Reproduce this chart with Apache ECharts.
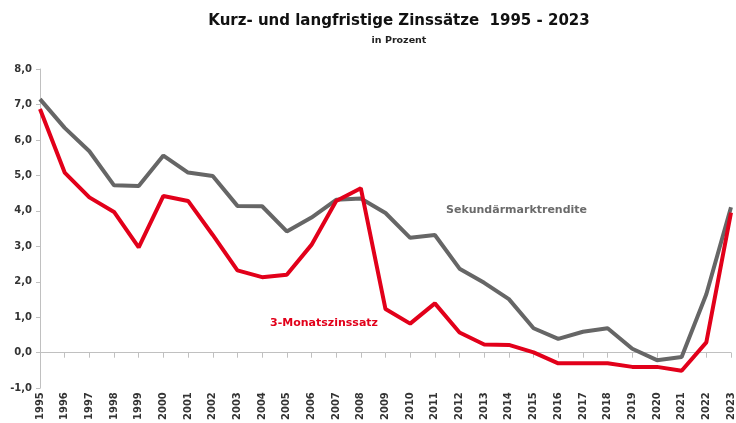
<!DOCTYPE html>
<html>
<head>
<meta charset="utf-8">
<script src="https://cdn.jsdelivr.net/npm/echarts@6/dist/echarts.min.js"></script>
<style>
  html, body { margin: 0; padding: 0; background: #fff; }
  #chart { width: 736px; height: 423px; }
</style>
</head>
<body>
<div id="chart"></div>
<script>
// Jahre
var years = ['1995', '1996', '1997', '1998', '1999', '2000', '2001', '2002', '2003', '2004',
    '2005', '2006', '2007', '2008', '2009', '2010', '2011', '2012', '2013', '2014',
    '2015', '2016', '2017', '2018', '2019', '2020', '2021', '2022', '2023'];
// Sekundärmarktrendite
var rendite = [7.15, 6.34, 5.68, 4.72, 4.70, 5.56, 5.08, 4.98, 4.14, 4.13,
    3.42, 3.81, 4.31, 4.35, 3.94, 3.24, 3.32, 2.37, 1.97, 1.51,
    0.69, 0.39, 0.59, 0.69, 0.11, -0.21, -0.12, 1.65, 4.10];
// 3-Monatszinssatz
var monat3 = [6.87, 5.08, 4.38, 3.97, 2.97, 4.42, 4.28, 3.32, 2.32, 2.13,
    2.20, 3.04, 4.28, 4.64, 1.23, 0.82, 1.39, 0.57, 0.23, 0.22,
    0.01, -0.30, -0.30, -0.30, -0.40, -0.40, -0.51, 0.29, 3.95];

var fontFam = 'DejaVu Sans';
var chart = echarts.init(document.getElementById('chart'));

chart.setOption({
    animation: false,
    title: {
        text: 'Kurz- und langfristige Zinssätze  1995 - 2023',
        subtext: 'in Prozent',
        left: 394,
        textAlign: 'center',
        top: 9,
        itemGap: 7,
        textStyle: { fontFamily: fontFam, fontSize: 15, fontWeight: 'bold', color: '#111' },
        subtextStyle: { fontFamily: fontFam, fontSize: 9.5, fontWeight: 'bold', color: '#222' }
    },
    grid: { left: 40, right: 3, top: 69, bottom: 32, containLabel: false },
    xAxis: [{
        type: 'category',
        data: years,
        boundaryGap: false,
        position: 'bottom',
        axisLine: { show: false, onZero: false },
        axisTick: { show: false },
        axisLabel: {
            rotate: 90, margin: 4, interval: 0,
            fontFamily: fontFam, fontSize: 10, fontWeight: 'bold', color: '#333'
        }
    }, {
        type: 'category',
        data: years,
        boundaryGap: false,
        position: 'bottom',
        axisLine: { show: true, onZero: true, lineStyle: { color: '#c0c0c0', width: 1 } },
        axisTick: { show: true, inside: false, length: 5, interval: 0, lineStyle: { color: '#c0c0c0' } },
        axisLabel: { show: false }
    }],
    yAxis: {
        type: 'value',
        min: -1,
        max: 8,
        interval: 1,
        axisLine: { show: true, lineStyle: { color: '#c0c0c0' } },
        axisTick: { show: true, length: 4, lineStyle: { color: '#c0c0c0' } },
        splitLine: { show: false },
        axisLabel: {
            margin: 8,
            fontFamily: fontFam, fontSize: 10, fontWeight: 'bold', color: '#333',
            formatter: function (v) { return v.toFixed(1).replace('.', ','); }
        }
    },
    series: [{
        name: 'Sekundärmarktrendite',
        type: 'line',
        data: rendite,
        symbol: 'none',
        lineStyle: { color: '#666666', width: 4 },
        z: 2
    }, {
        name: '3-Monatszinssatz',
        type: 'line',
        data: monat3,
        symbol: 'none',
        lineStyle: { color: '#e2001a', width: 4 },
        z: 3
    }],
    graphic: [{
        type: 'text',
        left: 446,
        top: 205,
        style: {
            text: 'Sekundärmarktrendite',
            font: 'bold 11px ' + fontFam,
            fill: '#6b6b6b'
        }
    }, {
        type: 'text',
        left: 270,
        top: 318,
        style: {
            text: '3-Monatszinssatz',
            font: 'bold 11px ' + fontFam,
            fill: '#e2001a'
        }
    }]
});
</script>
</body>
</html>
